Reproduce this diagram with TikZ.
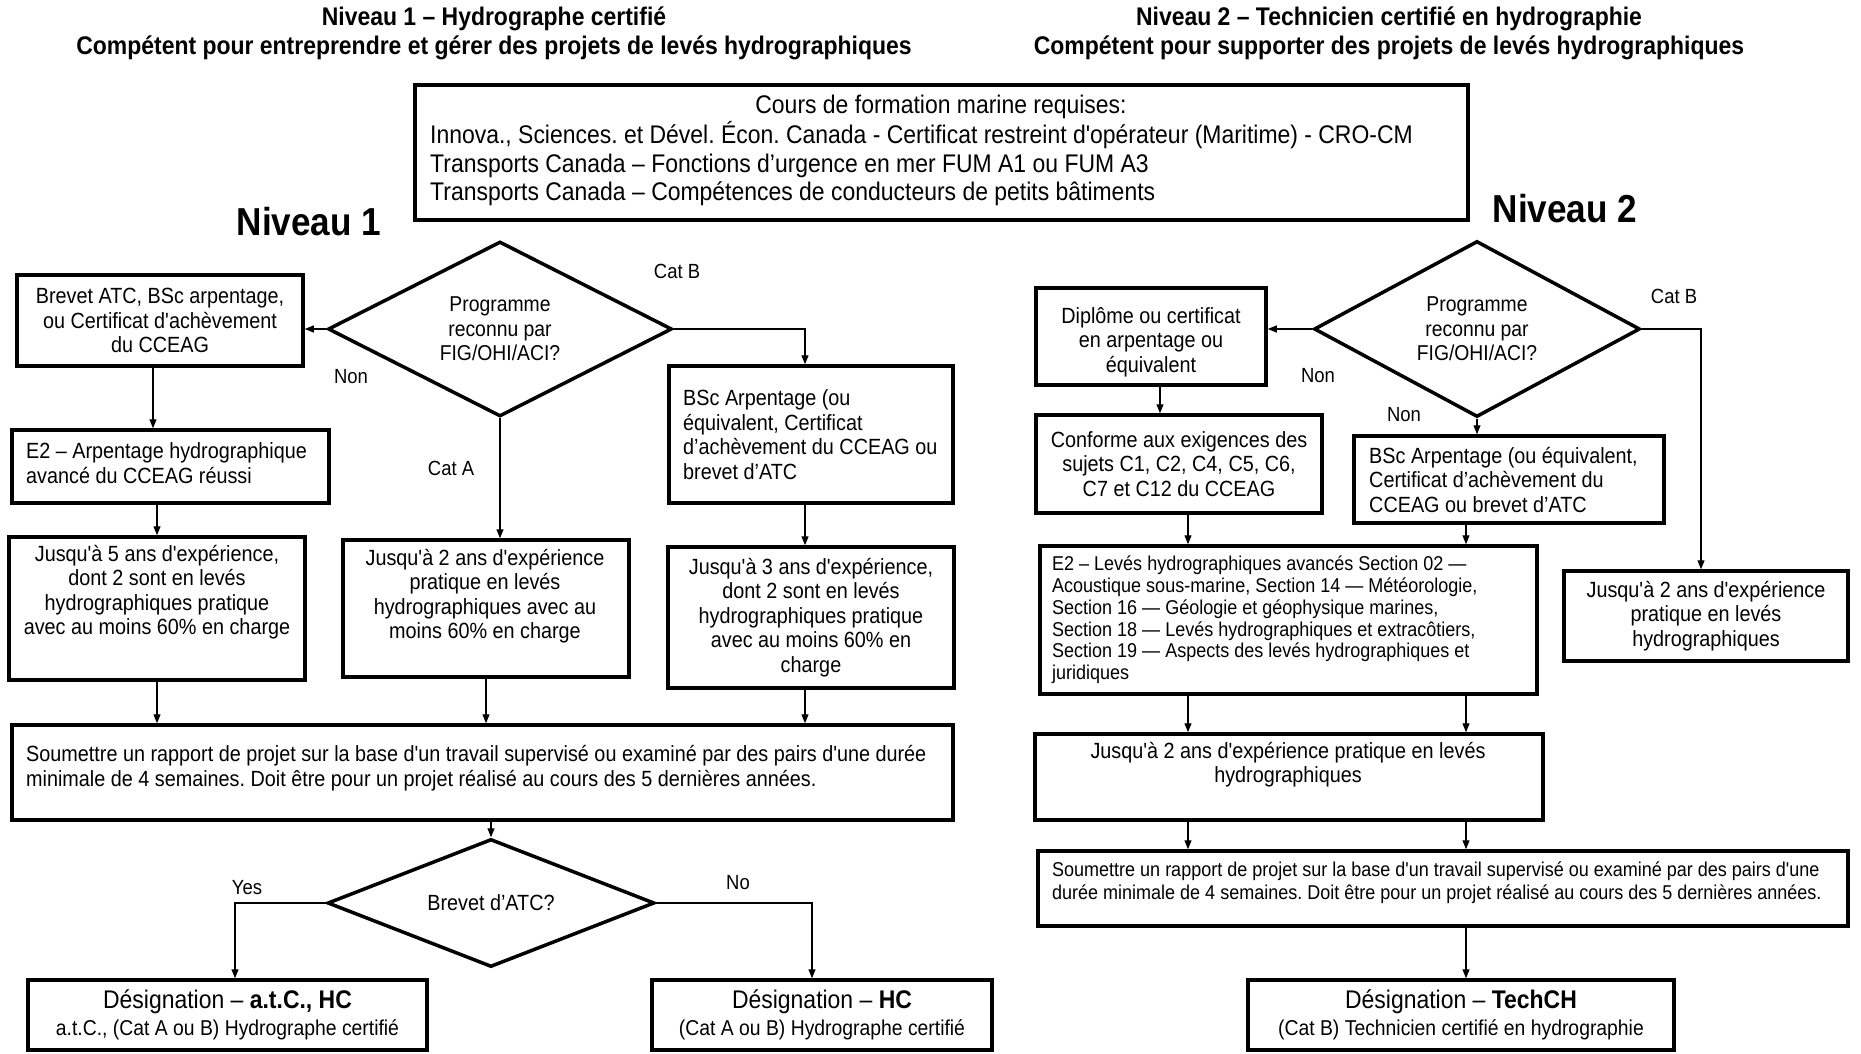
\documentclass[tikz,border=0pt]{standalone}
\usepackage{fontspec}
\setmainfont{Liberation Sans}[FakeStretch=0.9, Ligatures=TeXOff]
\usetikzlibrary{arrows.meta,shapes.geometric}
\frenchspacing
\begin{document}
\begin{tikzpicture}[x=1pt,y=-1pt,
  box/.style={draw, line width=3.5pt, inner sep=0pt, align=center, font=\fontsize{22}{24.5}\selectfont},
  dia/.style={draw, diamond, aspect=2, line width=3.5pt, inner sep=0pt, align=center, font=\fontsize{21.5}{24.5}\selectfont},
  txt/.style={inner sep=0pt, align=center, font=\fontsize{22}{24.5}\selectfont},
  txtl/.style={inner sep=0pt, align=left, anchor=west, font=\fontsize{22}{24.5}\selectfont},
  small/.style={font=\fontsize{20}{21.8}\selectfont},
  lab/.style={inner sep=0pt, font=\fontsize{20.5}{24}\selectfont},
  tit/.style={inner sep=0pt, align=center, font=\bfseries\fontsize{25.5}{29}\selectfont},
  niv/.style={inner sep=0pt, font=\bfseries\fontsize{39}{40}\selectfont},
  desig/.style={box, font=\fontsize{21.5}{27}\selectfont},
  arr/.style={line width=1.2pt, -{Triangle[length=9pt,width=7pt]}}
]
\useasboundingbox (0,0) rectangle (1861,1054);
\fill[white] (0,0) rectangle (1861,1054);

% column coordinates
\coordinate (xa) at (153,0);
\coordinate (xb) at (157,0);
\coordinate (xc) at (805,0);
\coordinate (xd) at (235,0);
\coordinate (xe) at (812,0);
\coordinate (xf) at (1160,0);
\coordinate (xg) at (1188,0);
\coordinate (xh) at (1466,0);
\coordinate (xi) at (1701,0);

% titles
\node[tit] (T1) at (494,33.5) {Niveau 1 – Hydrographe certifié\\Compétent pour entreprendre et gérer des projets de levés hydrographiques};
\node[tit] (T2) at (1389,33.5) {Niveau 2 – Technicien certifié en hydrographie\\Compétent pour supporter des projets de levés hydrographiques};

% top box
\node[box, minimum width=1053pt, minimum height=135pt] (B0) at (941.5,152.5) {};
\node[inner sep=0pt, font=\fontsize{25.5}{28.5}\selectfont] (B0t) at (941,107) {Cours de formation marine requises:};
\node[inner sep=0pt, align=left, anchor=west, font=\fontsize{25.5}{28.5}\selectfont] (B0l) at (430,164) {Innova., Sciences. et Dével. Écon. Canada - Certificat restreint d'opérateur (Maritime) - CRO-CM\\Transports Canada – Fonctions d’urgence en mer FUM A1 ou FUM A3\\Transports Canada – Compétences de conducteurs de petits bâtiments};

\node[niv] (N1) at (309,222) {Niveau 1};
\node[niv] (N2) at (1565,209) {Niveau 2};

% ---------- Niveau 1 ----------
\node[dia, minimum width=344pt, minimum height=175pt] (D1) at (500,329) {Programme\\reconnu par\\FIG/OHI/ACI?};
\node[box, minimum width=286pt, minimum height=91pt] (B1) at (160,320.5) {Brevet ATC, BSc arpentage,\\ou Certificat d'achèvement\\du CCEAG};
\node[box, minimum width=284pt, minimum height=137pt] (B2) at (811,434.5) {};
\node[txtl] (B2t) at (683,434.5) {BSc Arpentage (ou\\équivalent, Certificat\\d’achèvement du CCEAG ou\\brevet d’ATC};
\node[box, minimum width=317pt, minimum height=73pt] (B3) at (170.5,466.5) {};
\node[txtl] (B3t) at (26,463) {E2 – Arpentage hydrographique\\avancé du CCEAG réussi};
\node[box, minimum width=296pt, minimum height=143pt] (B4) at (157,608.5) {};
\node[txt] (B4t) at (157,592) {Jusqu'à 5 ans d'expérience,\\dont 2 sont en levés\\hydrographiques pratique\\avec au moins 60\% en charge};
\node[box, minimum width=286pt, minimum height=137pt] (B5) at (486,608.5) {};
\node[txt] (B5t) at (485,596) {Jusqu'à 2 ans d'expérience\\pratique en levés\\hydrographiques avec au\\moins 60\% en charge};
\node[box, minimum width=286pt, minimum height=141pt] (B6) at (811,617.5) {Jusqu'à 3 ans d'expérience,\\dont 2 sont en levés\\hydrographiques pratique\\avec au moins 60\% en\\charge};
\node[box, minimum width=941pt, minimum height=95pt] (B7) at (482.5,772.5) {};
\node[txtl] (B7t) at (26,768) {Soumettre un rapport de projet sur la base d'un travail supervisé ou examiné par des pairs d'une durée\\minimale de 4 semaines. Doit être pour un projet réalisé au cours des 5 dernières années.};
\node[dia, aspect=2.5, minimum width=327pt, minimum height=128pt, font=\fontsize{22}{24}\selectfont] (D2) at (491,903) {Brevet d’ATC?};
\node[desig, minimum width=399pt, minimum height=70pt] (B8) at (227.5,1015) {{\fontsize{25.5}{27}\selectfont Désignation – \textbf{a.t.C., HC}}\\a.t.C., (Cat A ou B) Hydrographe certifié};
\node[desig, minimum width=340pt, minimum height=70pt] (B9) at (822,1015) {{\fontsize{25.5}{27}\selectfont Désignation – \textbf{HC}}\\(Cat A ou B) Hydrographe certifié};

% labels
\node[lab] (L1) at (351,377) {Non};
\node[lab] (L2) at (677,271) {Cat B};
\node[lab] (L3) at (451,468) {Cat A};
\node[lab] (L4) at (247,888) {Yes};
\node[lab] (L5) at (738,883) {No};

% connectors Niveau 1
\draw[arr] (D1.west) -- (D1.west -| B1.east);
\draw[arr] (D1.south) -- (D1.south |- B5.north);
\draw[arr] (D1.east) -| (B2.north -| xc);
\draw[arr] (B1.south -| xa) -- (B3.north -| xa);
\draw[arr] (B3.south -| xb) -- (B4.north -| xb);
\draw[arr] (B2.south -| xc) -- (B6.north -| xc);
\draw[arr] (B4.south -| xb) -- (B7.north -| xb);
\draw[arr] (B5.south) -- (B5.south |- B7.north);
\draw[arr] (B6.south -| xc) -- (B7.north -| xc);
\draw[arr] (B7.south -| D2.north) -- (D2.north);
\draw[arr] (D2.west) -| (B8.north -| xd);
\draw[arr] (D2.east) -| (B9.north -| xe);

% ---------- Niveau 2 ----------
\node[dia, minimum width=326pt, minimum height=176pt] (D3) at (1477,329) {Programme\\reconnu par\\FIG/OHI/ACI?};
\node[box, minimum width=230pt, minimum height=97pt] (B10) at (1151,336.5) {};
\node[txt] (B10t) at (1151,342) {Diplôme ou certificat\\en arpentage ou\\équivalent};
\node[box, minimum width=286pt, minimum height=98pt] (B11) at (1179,464) {Conforme aux exigences des\\sujets C1, C2, C4, C5, C6,\\C7 et C12 du CCEAG};
\node[box, minimum width=310pt, minimum height=87pt] (B12) at (1509,479.5) {};
\node[txtl] (B12t) at (1369,480) {BSc Arpentage (ou équivalent,\\Certificat d’achèvement du\\CCEAG ou brevet d’ATC};
\node[box, minimum width=284pt, minimum height=90pt] (B13) at (1706,616) {Jusqu'à 2 ans d'expérience\\pratique en levés\\hydrographiques};
\node[box, minimum width=497pt, minimum height=148pt] (B14) at (1288.5,620) {};
\node[txtl, small] (B14t) at (1052,620) {E2 – Levés hydrographiques avancés Section 02 —\\Acoustique sous-marine, Section 14 — Météorologie,\\Section 16 — Géologie et géophysique marines,\\Section 18 — Levés hydrographiques et extracôtiers,\\Section 19 — Aspects des levés hydrographiques et\\juridiques};
\node[box, minimum width=508pt, minimum height=86pt] (B15) at (1289,777) {};
\node[txt] (B15t) at (1288,764.5) {Jusqu'à 2 ans d'expérience pratique en levés\\hydrographiques};
\node[box, minimum width=810pt, minimum height=75pt] (B16) at (1443,888.5) {};
\node[txtl, font=\fontsize{20}{23}\selectfont] (B16t) at (1052,882.5) {Soumettre un rapport de projet sur la base d'un travail supervisé ou examiné par des pairs d'une\\durée minimale de 4 semaines. Doit être pour un projet réalisé au cours des 5 dernières années.};
\node[desig, minimum width=426pt, minimum height=70pt] (B17) at (1461,1015) {{\fontsize{25.5}{27}\selectfont Désignation – \textbf{TechCH}}\\(Cat B) Technicien certifié en hydrographie};

\node[lab] (L6) at (1318,376) {Non};
\node[lab] (L7) at (1404,415) {Non};
\node[lab] (L8) at (1674,296) {Cat B};

% connectors Niveau 2
\draw[arr] (D3.west) -- (D3.west -| B10.east);
\draw[arr] (D3.south) -- (D3.south |- B12.north);
\draw[arr] (D3.east) -| (B13.north -| xi);
\draw[arr] (B10.south -| xf) -- (B11.north -| xf);
\draw[arr] (B11.south -| xg) -- (B14.north -| xg);
\draw[arr] (B12.south -| xh) -- (B14.north -| xh);
\draw[arr] (B14.south -| xg) -- (B15.north -| xg);
\draw[arr] (B14.south -| xh) -- (B15.north -| xh);
\draw[arr] (B15.south -| xg) -- (B16.north -| xg);
\draw[arr] (B15.south -| xh) -- (B16.north -| xh);
\draw[arr] (B16.south -| xh) -- (B17.north -| xh);
\end{tikzpicture}
\end{document}
